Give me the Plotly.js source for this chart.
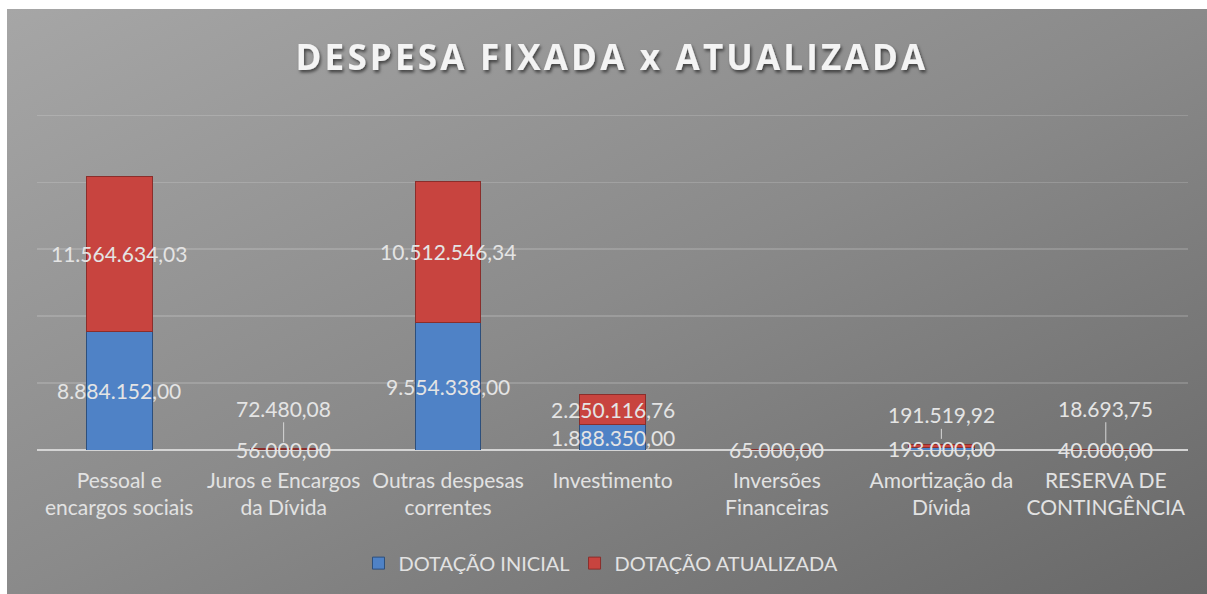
<!DOCTYPE html>
<html>
<head>
<meta charset="utf-8">
<script src="https://cdn.plot.ly/plotly-3.0.1.min.js"></script>
<style>
  html, body { margin: 0; padding: 0; background: #ffffff; }
  #wrap { position: relative; width: 1207px; height: 594px; overflow: hidden; }
  #bg { position: absolute; left: 7px; top: 9px; width: 1200px; height: 585px;
        background: linear-gradient(to bottom right, #a6a6a6 0%, #8a8a8a 50%, #686868 100%); }
  #chart { position: absolute; left: 0; top: 0; width: 1207px; height: 594px; }
  .gtitle { letter-spacing: 3.2px; filter: url(#tshadow); }
</style>
</head>
<body>
<svg width="0" height="0" style="position:absolute">
  <defs>
    <filter id="tshadow" x="-10%" y="-30%" width="120%" height="170%">
      <feDropShadow dx="1.5" dy="2.5" stdDeviation="1.5" flood-color="#000" flood-opacity="0.55"/>
    </filter>
  </defs>
</svg>
<div id="wrap">
  <div id="bg"></div>
  <div id="chart"></div>
</div>
<script>
// ---- data ----
const categories = ["Pessoal e encargos sociais", "Juros e Encargos da Dívida", "Outras despesas correntes",
                    "Investimento", "Inversões Financeiras", "Amortização da Dívida", "RESERVA DE CONTINGÊNCIA"];
const tickLabels = ["Pessoal e<br>encargos sociais", "Juros e Encargos<br>da Dívida", "Outras despesas<br>correntes",
                    "Investimento", "Inversões<br>Financeiras", "Amortização da<br>Dívida", "RESERVA DE<br>CONTINGÊNCIA"];
const dotacaoInicial = [8884152.00, 56000.00, 9554338.00, 1888350.00, null, 193000.00, 40000.00];
const dotacaoAtualizada = [11564634.03, 72480.08, 10512546.34, 2250116.76, 65000.00, 191519.92, 18693.75];
const seriesNames = ["DOTAÇÃO INICIAL", "DOTAÇÃO ATUALIZADA"];
// red labels that are lifted above the bar with a leader line (category index -> pixel offset)
const leaderOffsets = {1: -40, 5: -30, 6: -41};

function fmtBR(v) {
  const neg = v < 0; v = Math.abs(v);
  let [ip, dp] = v.toFixed(2).split(".");
  ip = ip.replace(/\B(?=(\d{3})+(?!\d))/g, ".");
  return (neg ? "-" : "") + ip + "," + dp;
}

const FONT = "Lato, 'Open Sans', sans-serif";
const labelFont = {family: FONT, size: 21, color: "#e4e4e4"};

const traces = [
  {type: "bar", name: seriesNames[0], x: categories, y: dotacaoInicial,
   marker: {color: "#4f82c6", line: {color: "#2d4f7c", width: 1}}, hoverinfo: "y"},
  {type: "bar", name: seriesNames[1], x: categories, y: dotacaoAtualizada,
   marker: {color: "#c8443f", line: {color: "#8a2e2b", width: 1}}, hoverinfo: "y"}
];

const annotations = [];
categories.forEach((c, i) => {
  const b = dotacaoInicial[i] || 0;
  const r = dotacaoAtualizada[i] || 0;
  if (dotacaoInicial[i] != null) {
    annotations.push({x: c, y: b / 2, xref: "x", yref: "y", text: fmtBR(b),
      showarrow: false, font: labelFont});
  }
  if (dotacaoAtualizada[i] != null) {
    if (leaderOffsets[i] !== undefined) {
      annotations.push({x: c, y: b + r, xref: "x", yref: "y", text: fmtBR(r),
        showarrow: true, arrowhead: 0, arrowwidth: 1, arrowcolor: "#d6d6d6",
        ax: 0, ay: leaderOffsets[i], standoff: 6, font: labelFont});
    } else {
      annotations.push({x: c, y: b + r / 2, xref: "x", yref: "y", text: fmtBR(r),
        showarrow: false, font: labelFont});
    }
  }
});

const layout = {
  width: 1207, height: 594,
  paper_bgcolor: "rgba(0,0,0,0)", plot_bgcolor: "rgba(0,0,0,0)",
  margin: {l: 37, r: 19, t: 102, b: 144},
  barmode: "stack", bargap: 0.6,
  title: {text: "DESPESA FIXADA x ATUALIZADA", x: 0.507, xanchor: "center",
          y: 0.903, yanchor: "middle", yref: "container",
          font: {family: "'Open Sans', sans-serif", size: 35, weight: 700, color: "#f4f4f4"}},
  xaxis: {type: "category", tickvals: categories, ticktext: tickLabels, tickangle: 0,
          tickfont: {family: FONT, size: 21, color: "#e2e2e2"},
          ticks: "", ticklabelstandoff: 16, showline: false, showgrid: false, fixedrange: true},
  yaxis: {range: [0, 26000000], tickvals: [0, 5000000, 10000000, 15000000, 20000000, 25000000],
          showticklabels: false,
          showgrid: true, gridcolor: "rgba(255,255,255,0.16)", gridwidth: 1.5,
          zeroline: true, zerolinecolor: "#d4d4d4", zerolinewidth: 2.5, fixedrange: true},
  showlegend: true,
  legend: {orientation: "h", x: 0.49, xanchor: "center", y: 0.052, yanchor: "middle",
           yref: "container", font: {family: FONT, size: 20, color: "#e2e2e2"},
           traceorder: "normal", itemwidth: 30, bgcolor: "rgba(0,0,0,0)"},
  annotations: annotations
};

Plotly.newPlot("chart", traces, layout, {displayModeBar: false, staticPlot: true});
</script>
</body>
</html>
